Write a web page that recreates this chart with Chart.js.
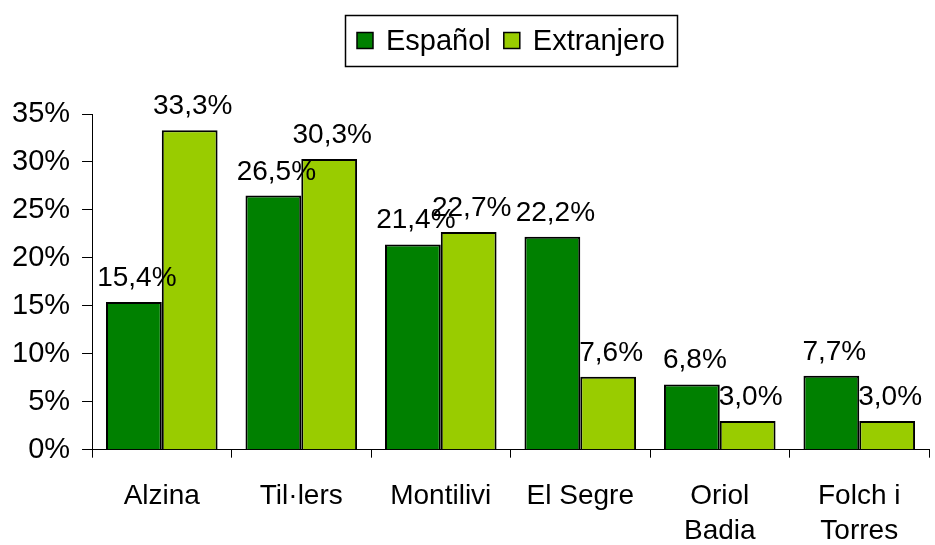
<!DOCTYPE html>
<html>
<head>
<meta charset="utf-8">
<script src="https://cdn.jsdelivr.net/npm/chart.js@4"></script>
<style>
  html, body { margin: 0; padding: 0; background: #fff; }
  #wrap { width: 935px; height: 545px; }
</style>
</head>
<body>
<div id="wrap"><canvas id="barChart" width="935" height="545"></canvas></div>
<script>
const categories = ['Alzina', 'Til·lers', 'Montilivi', 'El Segre', ['Oriol', 'Badia'], ['Folch i', 'Torres']];
const espanol = [15.4, 26.5, 21.4, 22.2, 6.8, 7.7];
const extranjero = [33.3, 30.3, 22.7, 7.6, 3.0, 3.0];
const yTicks = [0, 5, 10, 15, 20, 25, 30, 35];

const FONT = "'Liberation Sans', Arial, sans-serif";

// value labels over each bar, Excel style "15,4%"
const valueLabels = {
    id: 'valueLabels',
    afterDatasetsDraw(chart) {
        const ctx = chart.ctx;
        ctx.save();
        ctx.font = '28px ' + FONT;
        ctx.fillStyle = '#000';
        ctx.textAlign = 'center';
        ctx.textBaseline = 'alphabetic';
        chart.data.datasets.forEach((ds, i) => {
            chart.getDatasetMeta(i).data.forEach((bar, j) => {
                const txt = ds.data[j].toFixed(1).replace('.', ',') + '%';
                ctx.fillText(txt, bar.x + 3, bar.y - 16);
            });
        });
        ctx.restore();
    }
};

// boxed legend centred over the plot area
const boxedLegend = {
    id: 'boxedLegend',
    afterDraw(chart) {
        const ctx = chart.ctx;
        const area = chart.chartArea;
        const sq = 16, gap = 13, pad = 12;
        ctx.save();
        ctx.font = '29px ' + FONT;
        const items = chart.data.datasets.map(ds => ({ text: ds.label, color: ds.backgroundColor, w: ctx.measureText(ds.label).width }));
        let total = pad * 2 - gap;
        items.forEach(it => { total += sq + gap + it.w + gap; });
        let x = Math.round((area.left + area.right) / 2 - total / 2);
        const top = 15, h = 51, mid = top + h / 2;
        ctx.strokeStyle = '#000';
        ctx.lineWidth = 1.5;
        ctx.strokeRect(x + 0.5, top + 0.5, Math.round(total), h);
        x += pad;
        ctx.textBaseline = 'middle';
        ctx.textAlign = 'left';
        items.forEach(it => {
            ctx.fillStyle = it.color;
            ctx.fillRect(x, mid - sq / 2, sq, sq);
            ctx.lineWidth = 1.5;
            ctx.strokeRect(x, mid - sq / 2, sq, sq);
            x += sq + gap;
            ctx.fillStyle = '#000';
            ctx.fillText(it.text, x, mid + 1);
            x += it.w + gap;
        });
        ctx.restore();
    }
};

new Chart(document.getElementById('barChart').getContext('2d'), {
    type: 'bar',
    data: {
        labels: categories,
        datasets: [
            { label: 'Español', data: espanol, backgroundColor: '#008000', borderColor: '#000', borderWidth: 2 },
            { label: 'Extranjero', data: extranjero, backgroundColor: '#99CC00', borderColor: '#000', borderWidth: 2 }
        ]
    },
    options: {
        responsive: false,
        animation: false,
        devicePixelRatio: 1,
        layout: { padding: { top: 114, right: 6, left: 0, bottom: -25 } },
        datasets: { bar: { categoryPercentage: 0.8, barPercentage: 1.0 } },
        plugins: {
            tooltip: { enabled: false },
            legend: { display: false }
        },
        scales: {
            x: {
                grid: { display: true, offset: true, drawOnChartArea: false, color: '#000', tickLength: 8 },
                border: { display: true, color: '#000', width: 1 },
                ticks: { color: '#000', font: { family: FONT, size: 28, lineHeight: 1.22 }, padding: 22, maxRotation: 0 }
            },
            y: {
                min: 0, max: 35,
                afterBuildTicks(axis) { axis.ticks = yTicks.map(v => ({ value: v })); },
                grid: { display: true, drawOnChartArea: false, color: '#000', tickLength: 10 },
                border: { display: true, color: '#000', width: 1 },
                ticks: { color: '#000', font: { family: FONT, size: 29 }, padding: 12, callback: v => v + '%' }
            }
        }
    },
    plugins: [valueLabels, boxedLegend]
});
</script>
</body>
</html>
